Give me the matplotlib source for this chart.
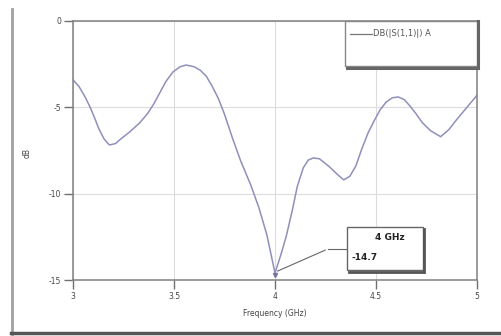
import matplotlib
matplotlib.use("Agg")
import matplotlib.pyplot as plt
from matplotlib.patches import Rectangle
from matplotlib.lines import Line2D

# S11 trace (GHz, dB)
freq_ghz = [3.00, 3.03, 3.06, 3.085, 3.11, 3.13, 3.155, 3.18, 3.21, 3.24,
            3.28, 3.33, 3.37, 3.40, 3.43, 3.46, 3.495, 3.53, 3.56, 3.60,
            3.63, 3.66, 3.69, 3.72, 3.75, 3.79, 3.83, 3.88, 3.92, 3.96, 4.00,
            4.03, 4.055, 4.085, 4.11, 4.14, 4.165, 4.19, 4.22, 4.27, 4.31,
            4.34, 4.37, 4.40, 4.43, 4.46, 4.49, 4.52, 4.55, 4.58, 4.61,
            4.64, 4.67, 4.70, 4.73, 4.77, 4.82, 4.86, 4.90, 4.95, 5.00]
s11_db = [-3.4, -3.8, -4.4, -5.0, -5.7, -6.3, -6.85, -7.18, -7.1, -6.8,
          -6.43, -5.9, -5.35, -4.8, -4.15, -3.5, -2.95, -2.65, -2.55, -2.65,
          -2.85, -3.2, -3.8, -4.5, -5.4, -6.8, -8.1, -9.5, -10.8, -12.4, -14.6,
          -13.5, -12.5, -11.0, -9.6, -8.5, -8.05, -7.93, -7.98, -8.45, -8.9,
          -9.2, -9.0, -8.4, -7.4, -6.5, -5.8, -5.15, -4.7, -4.45, -4.4,
          -4.55, -4.95, -5.4, -5.9, -6.35, -6.7, -6.3, -5.7, -5.0, -4.3]

x_ticks = [3, 3.5, 4, 4.5, 5]
x_tick_labels = ["3", "3.5", "4", "4.5", "5"]
y_ticks = [0, -5, -10, -15]
y_tick_labels = ["0", "-5", "-10", "-15"]

legend_label = "DB(|S(1,1)|) A"
marker_x = 4.0
marker_y = -14.7

fig = plt.figure(figsize=(5.02, 3.36), dpi=100)
fig.patch.set_facecolor("white")
ax = fig.add_axes([73 / 502, 1 - 280 / 336, 404 / 502, 259 / 336])

ax.plot(freq_ghz, s11_db, color="#8f8fbb", lw=1.1, solid_joinstyle="round")
ax.plot([marker_x], [marker_y], marker="v", ms=3, color="#77779a")

ax.set_xlim(3, 5)
ax.set_ylim(-15, 0)
ax.set_xticks(x_ticks)
ax.set_xticklabels(x_tick_labels)
ax.set_yticks(y_ticks)
ax.set_yticklabels(y_tick_labels)
ax.tick_params(direction="out", length=6.5, width=1, color="#707070",
               labelsize=5.5, labelcolor="#444444", pad=2)
ax.grid(True, color="#dcdcdc", lw=0.8)
for s in ax.spines.values():
    s.set_color("#808080")
    s.set_linewidth(1.1)

ax.set_xlabel("Frequency (GHz)", fontsize=5.5, color="#444444", labelpad=6)
fig.text(27 / 502, 1 - 153 / 336, "dB", fontsize=5.5, color="#444444",
         rotation=90, ha="center", va="center")

# legend box drawn by hand, with a shadow on bottom/right
lx0, lx1 = 0.673, 1.0
ly0, ly1 = 0.826, 1.0
ax.add_patch(Rectangle((lx0, ly0), lx1 - lx0, ly1 - ly0, transform=ax.transAxes,
                       facecolor="white", edgecolor="#888888", lw=1.0, zorder=5,
                       clip_on=False))
ax.add_line(Line2D([lx0 + 0.004, lx1], [ly0 - 0.006, ly0 - 0.006], transform=ax.transAxes,
                   color="#666666", lw=2.2, zorder=6, clip_on=False))
ax.add_line(Line2D([lx1 + 0.003, lx1 + 0.003], [ly0 - 0.006, ly1], transform=ax.transAxes,
                   color="#666666", lw=2.2, zorder=6, clip_on=False))
ax.add_line(Line2D([0.686, 0.74], [0.95, 0.95], transform=ax.transAxes,
                   color="#777777", lw=0.9, zorder=6))
ax.text(0.742, 0.95, legend_label, transform=ax.transAxes, fontsize=6,
        color="#555555", va="center", ha="left", zorder=6)

# marker readout box
mx0, mx1 = 0.678, 0.866
my0, my1 = 0.039, 0.205
ax.add_patch(Rectangle((mx0, my0), mx1 - mx0, my1 - my0, transform=ax.transAxes,
                       facecolor="white", edgecolor="#666666", lw=1.0, zorder=5))
ax.add_line(Line2D([mx0 + 0.004, mx1], [my0 - 0.007, my0 - 0.007], transform=ax.transAxes,
                   color="#555555", lw=2.0, zorder=6, clip_on=False))
ax.add_line(Line2D([mx1 + 0.003, mx1 + 0.003], [my0 - 0.007, my1 - 0.01], transform=ax.transAxes,
                   color="#555555", lw=2.0, zorder=6))
ax.annotate("", xy=(marker_x, marker_y + 0.15), xycoords="data",
            xytext=(0.631, 0.12), textcoords="axes fraction",
            arrowprops=dict(arrowstyle="-", color="#666666", lw=0.8))
ax.add_line(Line2D([0.631, mx0], [0.12, 0.12], transform=ax.transAxes,
                   color="#666666", lw=0.8, zorder=4))
ax.text(0.822, 0.165, f"{marker_x:g} GHz", transform=ax.transAxes, fontsize=6.5,
        fontweight="bold", color="#222222", ha="right", va="center", zorder=7)
ax.text(0.69, 0.085, f"{marker_y:g}", transform=ax.transAxes, fontsize=6.5,
        fontweight="bold", color="#222222", ha="left", va="center", zorder=7)

# screenshot frame: left and bottom edges
fig.add_artist(Line2D([12 / 502, 12 / 502], [1 - 334 / 336, 1 - 9 / 336],
                      transform=fig.transFigure, color="#a0a0a0", lw=2))
fig.add_artist(Line2D([11 / 502, 1], [1 - 333 / 336, 1 - 333 / 336],
                      transform=fig.transFigure, color="#555555", lw=2.5))

fig.savefig("out.png", dpi=100)
